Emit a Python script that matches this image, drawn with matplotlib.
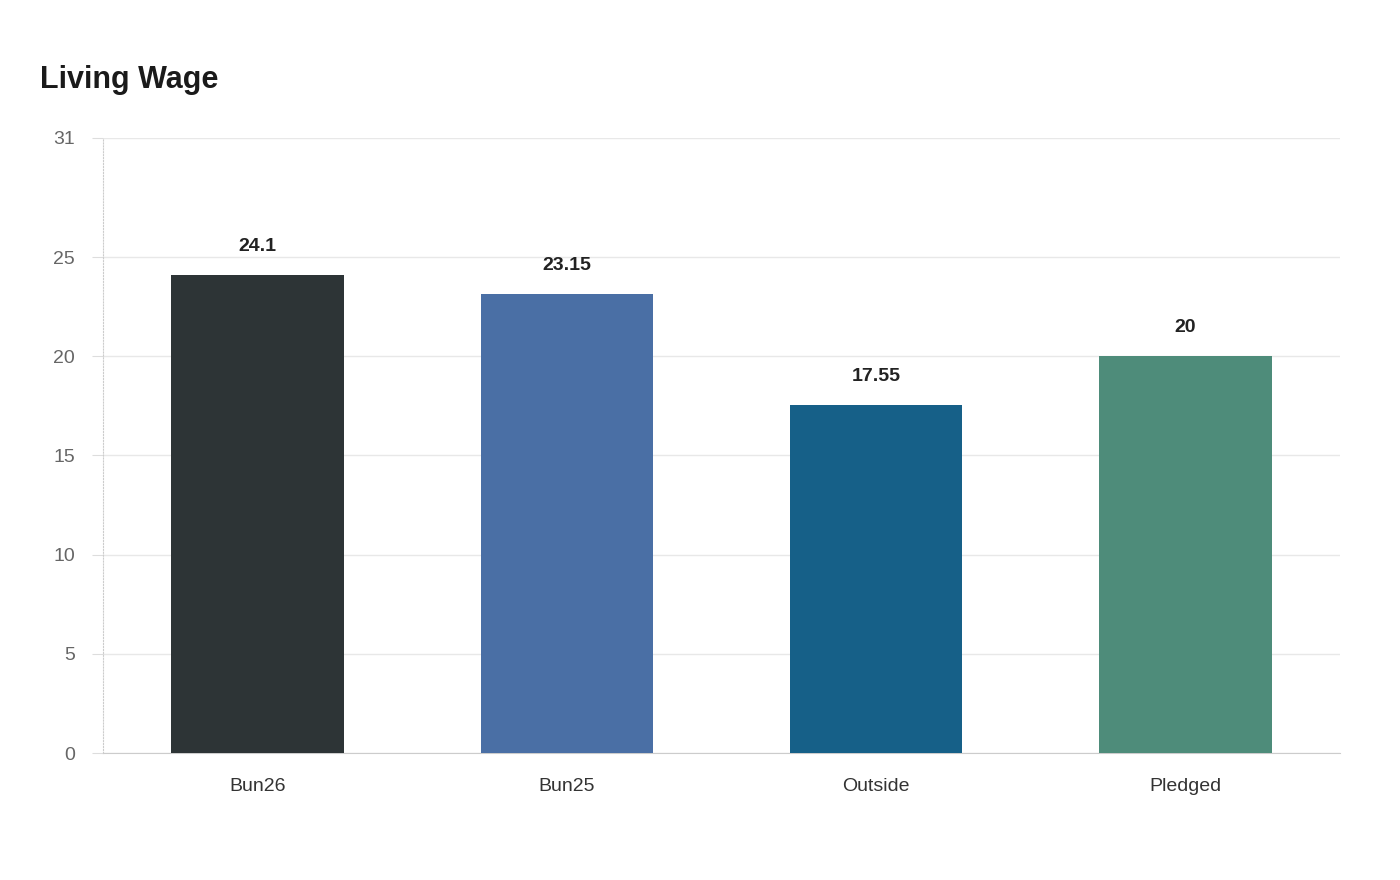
import matplotlib
matplotlib.use("Agg")
import matplotlib.pyplot as plt
from matplotlib.patches import FancyBboxPatch

categories = ["Bun26", "Bun25", "Outside", "Pledged"]
values = [24.1, 23.15, 17.55, 20]
labels = ["24.1", "23.15", "17.55", "20"]
colors = ["#2d3436", "#4a6fa5", "#166088", "#4e8c7a"]
yticks = [0, 5, 10, 15, 20, 25, 31]

plt.rcParams['font.family'] = ['Liberation Sans', 'DejaVu Sans']
fig = plt.figure(figsize=(14, 8.8), dpi=100)
ax = fig.add_axes([103/1400, 127/880, 1237/1400, 615/880])
x = list(range(len(categories)))
bars = ax.bar(x, values, width=0.557, color=colors, zorder=3)
for b, v, l in zip(bars, values, labels):
    ax.text(b.get_x() + b.get_width()/2, v + 1.0, l, ha='center', va='bottom',
            fontsize=14, fontweight='bold', color='#222222')
ax.set_xlim(-0.5, 3.5)
ax.set_ylim(0, 31)
ax.set_yticks(yticks)
ax.set_xticks(x)
ax.set_xticklabels(categories, fontsize=14, color='#333333')
ax.tick_params(axis='y', labelsize=14, labelcolor='#666666', length=8, color='#dddddd', pad=12)
ax.tick_params(axis='x', length=0, pad=18)
ax.grid(axis='y', color='#e8e8e8', linewidth=1, zorder=0)
for s in ['top', 'right']:
    ax.spines[s].set_visible(False)
ax.spines['left'].set_color('#cccccc')
ax.spines['left'].set_linestyle(':')
ax.spines['bottom'].set_color('#cccccc')
fig.text(40/1400, 1 - 80/880, "Living Wage", fontsize=22, fontweight='bold',
         color='#1a1a1a', va='center', ha='left')
fig.savefig("out.png", dpi=100, facecolor='white')
